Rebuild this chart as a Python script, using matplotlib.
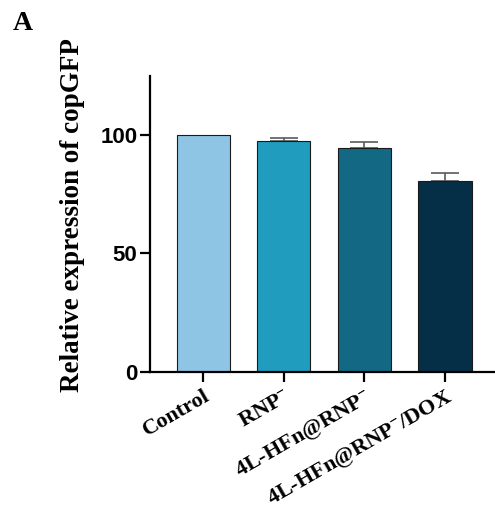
import matplotlib.pyplot as plt
import numpy as np

# group names, mean expression and upper error (SD)
groups = ['Control', 'RNP$^{-}$', '4L-HFn@RNP$^{-}$', '4L-HFn@RNP$^{-}$/DOX']
means = [100.0, 97.3, 94.4, 80.6]
errs = [0.0, 1.3, 2.5, 3.2]
colors = ['#8FC5E4', '#1F9CBE', '#136884', '#052F46']

plt.rcParams['mathtext.fontset'] = 'custom'
plt.rcParams['mathtext.rm'] = 'Liberation Serif:bold'
plt.rcParams['mathtext.default'] = 'rm'

fig = plt.figure(figsize=(4.95, 5.2), dpi=100)
ax = fig.add_axes([0.303, 0.285, 0.697, 0.569])

x = np.arange(len(groups))
ax.bar(x, means, width=0.66, color=colors, edgecolor='#1a1a1a', linewidth=0.8, zorder=2)
# control is normalised to 100, so no error bar there
has_err = np.array(errs) > 0
ax.errorbar(x[has_err], np.array(means)[has_err],
            yerr=[np.zeros(has_err.sum()), np.array(errs)[has_err]],
            fmt='none', ecolor='#5a5a5a', elinewidth=1.2, capsize=10, capthick=1.2, zorder=1)

ax.set_xlim(-0.66, 3.62)
ax.set_ylim(0, 125)
ax.set_yticks([0, 50, 100])
ax.set_xticks(x)
ax.set_xticklabels(groups, rotation=30, ha='right', rotation_mode='anchor',
                   fontfamily='Liberation Serif', fontweight='bold', fontsize=16)
for lab in ax.get_yticklabels():
    lab.set_fontfamily('Liberation Sans')
    lab.set_fontweight('bold')
    lab.set_fontsize(16)

ax.spines['top'].set_visible(False)
ax.spines['right'].set_visible(False)
ax.spines['left'].set_linewidth(1.6)
ax.spines['bottom'].set_linewidth(1.6)
ax.tick_params(axis='both', width=1.6, length=7)
ax.tick_params(axis='y', pad=2)

ax.set_ylabel('Relative expression of copGFP', fontfamily='Liberation Serif',
              fontweight='bold', fontsize=19.5, va='center')
ax.yaxis.set_label_coords(-0.226, 0.53)

fig.text(0.026, 0.942, 'A', fontfamily='Liberation Serif', fontweight='bold', fontsize=20)

fig.savefig('out.png', dpi=100)
